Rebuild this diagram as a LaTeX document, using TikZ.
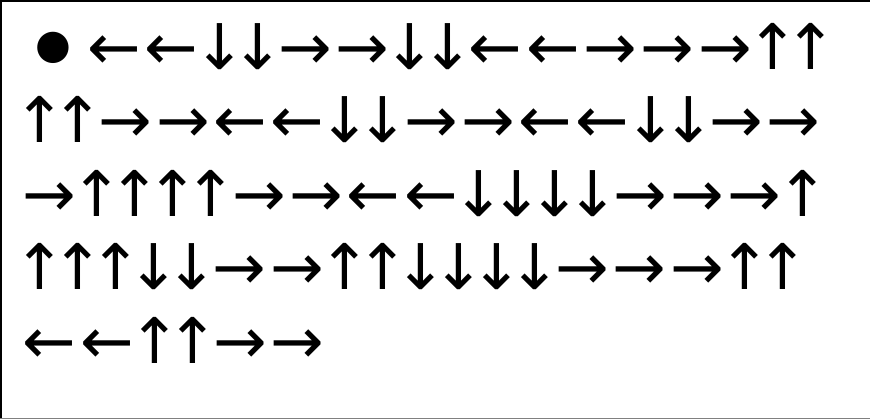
\documentclass[tikz,border=0pt]{standalone}
\usepackage{fontspec}
\newfontfamily\arrowfont{DejaVu Sans}
\newcommand\hfnt{\arrowfont\fontsize{64}{64}\selectfont}
\newcommand\vfnt{\arrowfont\fontsize{63}{63}\selectfont}
\tikzset{
  ar/.style={inner sep=0pt, outer sep=0pt},
  L/.style={ar, node contents={\makebox[57.3pt]{\smash{\hfnt ←}}}},
  R/.style={ar, node contents={\makebox[57.3pt]{\smash{\hfnt →}}}},
  U/.style={ar, node contents={\makebox[38pt]{\smash{\vfnt ↑}}}},
  D/.style={ar, node contents={\makebox[38pt]{\smash{\vfnt ↓}}}},
  dot/.style={inner sep=0pt, font=\arrowfont\fontsize{41}{41}\selectfont, node contents={●}},
  frame/.style={line width=2pt, black}
}
\newcommand\arrowrow[3]{%
  \foreach \k [count=\i] in {#3} {%
    \pgfmathtruncatemacro\j{\i-1}%
    \ifnum\i=1
      \node (#1-\i) at (#2) [\k, anchor=west];
    \else
      \node (#1-\i) at (#1-\j.east) [\k, anchor=west];
    \fi
  }%
}
\begin{document}
\begin{tikzpicture}[x=1pt, y=-1pt]
\useasboundingbox (0,0) rectangle (870,419);
\coordinate (tl) at (0,1);
\coordinate (tr) at (870,1);
\coordinate (lt) at (1,0);
\coordinate (lb) at (1,419);
\coordinate (bl) at (0,418.5);
\coordinate (br) at (870,418.5);
\draw[frame] (tl) -- (tr);
\draw[frame] (lt) -- (lb);
\draw[line width=1pt, gray] (bl) -- (br);
\node (start) at (53,47.5) [dot];
\coordinate (s1) at (85.85,70);
\coordinate (s2) at (21,143);
\coordinate (s3) at (21,217);
\coordinate (s4) at (21,290);
\coordinate (s5) at (21,363);
\arrowrow{a}{s1}{L,L,D,D,R,R,D,D,L,L,R,R,R,U,U}
\arrowrow{b}{s2}{U,U,R,R,L,L,D,D,R,R,L,L,D,D,R,R}
\arrowrow{c}{s3}{R,U,U,U,U,R,R,L,L,D,D,D,D,R,R,R,U}
\arrowrow{d}{s4}{U,U,U,D,D,R,R,U,U,D,D,D,D,R,R,R,U,U}
\arrowrow{e}{s5}{L,L,U,U,R,R}
\end{tikzpicture}
\end{document}
